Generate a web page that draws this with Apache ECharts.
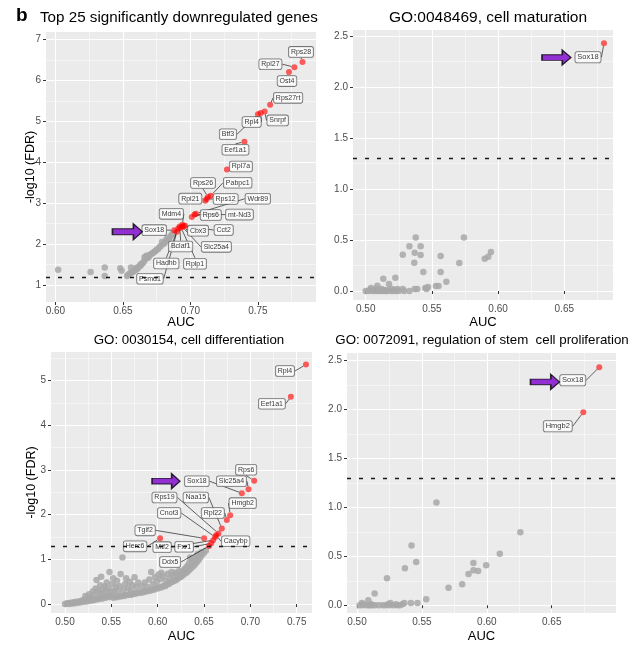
<!DOCTYPE html>
<html><head><meta charset="utf-8">
<script src="https://cdn.jsdelivr.net/npm/echarts@6/dist/echarts.min.js"></script>
<style>html,body{margin:0;padding:0;background:#fff}#c{width:638px;height:645px}</style>
</head><body><div id="c"></div>
<script>
const FONT = '"Liberation Sans", Arial, Helvetica, sans-serif';

// ---------- Panel A: Top 25 significantly downregulated genes ----------
const genesA = ['Rps28','Rpl27','Ost4','Rps27rt','Snrpf','Rpl4','Btf3','Eef1a1','Rpl7a','Rps26','Pabpc1','Rpl21','Rps12','Wdr89','mt-Nd3','Rps6','Mdm4','Cbx3','Cct2','Slc25a4','Bclaf1','Rplp1','Hadhb','Psmd1','Sox18'];
const redA = [[0.783,6.45],[0.777,6.32],[0.773,6.20],[0.759,5.40],[0.755,5.24],[0.752,5.20],[0.750,5.17],[0.740,4.50],[0.727,3.82],[0.713,3.15],[0.715,3.18],[0.711,3.06],[0.712,3.10],[0.704,2.74],[0.703,2.72],[0.701,2.66],[0.694,2.47],[0.696,2.45],[0.695,2.44],[0.694,2.42],[0.692,2.43],[0.693,2.40],[0.691,2.38],[0.690,2.30],[0.688,2.34]];
const greyA = [[0.602,1.37],[0.626,1.32],[0.6365,1.43],[0.6365,1.22],[0.648,1.41],[0.649,1.35],[0.653,1.22],[0.656,1.43],[0.654,1.25],[0.655,1.28],[0.656,1.30],[0.657,1.31],[0.658,1.34],[0.659,1.36],[0.660,1.38],[0.660,1.42],[0.661,1.41],[0.662,1.45],[0.663,1.47],[0.663,1.50],[0.664,1.52],[0.665,1.55],[0.666,1.60],[0.666,1.68],[0.667,1.70],[0.668,1.66],[0.668,1.72],[0.669,1.68],[0.670,1.73],[0.671,1.76],[0.672,1.78],[0.673,1.80],[0.674,1.83],[0.675,1.86],[0.676,1.88],[0.677,1.92],[0.678,1.95],[0.679,2.05],[0.680,2.00],[0.681,2.03],[0.682,2.10],[0.683,2.14],[0.684,2.12],[0.685,2.18],[0.686,2.22],[0.687,2.26]];
const arrowA = [[0.6533,2.30]];
const thresholdA = 1.2;
const xTicksA = [0.60,0.65,0.70,0.75];
const yTicksA = [1,2,3,4,5,6,7];

// ---------- Panel B: GO:0048469, cell maturation ----------
const genesB = ['Sox18'];
const redB = [[0.680,2.43]];
const greyB = [[0.500,0.00],[0.502,0.00],[0.503,0.01],[0.504,0.03],[0.505,0.00],[0.506,0.01],[0.507,0.00],[0.508,0.02],[0.509,0.00],[0.510,0.01],[0.511,0.00],[0.512,0.02],[0.513,0.00],[0.514,0.01],[0.515,0.00],[0.516,0.00],[0.517,0.01],[0.519,0.00],[0.520,0.02],[0.521,0.00],[0.522,0.01],[0.523,0.00],[0.524,0.02],[0.525,0.00],[0.528,0.02],[0.529,0.00],[0.533,0.00],[0.537,0.02],[0.539,0.02],[0.545,0.03],[0.546,0.02],[0.547,0.04],[0.553,0.05],[0.555,0.05],[0.5088,0.052],[0.5133,0.121],[0.5176,0.069],[0.5224,0.130],[0.5609,0.091],[0.5435,0.186],[0.5566,0.186],[0.5367,0.278],[0.5707,0.275],[0.5899,0.317],[0.5926,0.336],[0.5946,0.382],[0.528,0.356],[0.537,0.375],[0.5415,0.353],[0.5566,0.343],[0.533,0.438],[0.5415,0.438],[0.5378,0.526],[0.5742,0.526]];
const arrowB = [[0.6441,2.29]];
const thresholdB = 1.3;
const xTicksB = [0.50,0.55,0.60,0.65];
const yTicksB = [0,0.5,1,1.5,2,2.5];

// ---------- Panel C: GO: 0030154, cell differentiation ----------
const genesC = ['Rpl4','Eef1a1','Rps6','Slc25a4','Sox18','Hmgb2','Rpl22','Naa15','Rps19','Cacybp','Cnot3','Mtf2','Fxr1','Ddx5','Tgif2','Herc6'];
const redC = [[0.760,5.36],[0.7437,4.64],[0.7041,2.76],[0.698,2.57],[0.6908,2.48],[0.6782,1.99],[0.6746,1.88],[0.6692,1.69],[0.6656,1.58],[0.6631,1.54],[0.662,1.50],[0.6598,1.43],[0.6577,1.36],[0.6555,1.30],[0.6501,1.47],[0.6026,1.47]];
const greyC = [[0.500,0.00],[0.502,0.01],[0.503,0.02],[0.505,0.00],[0.506,0.03],[0.508,0.01],[0.509,0.04],[0.511,0.02],[0.512,0.05],[0.514,0.03],[0.515,0.06],[0.517,0.04],[0.518,0.08],[0.520,0.05],[0.521,0.10],[0.523,0.06],[0.524,0.12],[0.526,0.07],[0.527,0.15],[0.529,0.08],
[0.522,0.18],[0.526,0.22],[0.530,0.28],[0.533,0.35],[0.534,0.54],[0.536,0.30],[0.538,0.42],[0.539,0.61],[0.531,0.20],[0.528,0.12],
[0.530,0.10],[0.532,0.09],[0.534,0.12],[0.536,0.11],[0.538,0.14],[0.540,0.12],[0.542,0.16],[0.544,0.14],[0.546,0.18],[0.548,0.16],[0.550,0.20],
[0.537,0.22],[0.540,0.25],[0.541,0.33],[0.543,0.40],[0.544,0.27],[0.545,0.48],[0.547,0.35],[0.548,0.72],[0.549,0.28],[0.551,0.45],[0.552,0.58],[0.553,0.30],[0.555,0.38],[0.556,0.52],
[0.552,0.14],[0.554,0.16],[0.556,0.15],[0.558,0.18],[0.560,0.17],[0.562,0.19],[0.564,0.18],[0.566,0.21],[0.568,0.20],[0.570,0.22],[0.572,0.21],[0.574,0.24],[0.576,0.23],[0.578,0.26],[0.580,0.25],
[0.557,0.28],[0.559,0.40],[0.560,0.67],[0.562,1.04],[0.563,0.32],[0.565,0.45],[0.566,0.58],[0.568,0.36],[0.570,0.50],[0.571,0.30],[0.573,0.42],[0.575,0.60],[0.577,0.38],[0.579,0.48],
[0.582,0.27],[0.584,0.26],[0.586,0.29],[0.588,0.28],[0.590,0.31],[0.592,0.30],[0.594,0.33],[0.596,0.32],[0.598,0.36],[0.600,0.35],[0.602,0.38],[0.604,0.37],[0.606,0.41],[0.608,0.40],[0.610,0.44],
[0.612,0.45],[0.614,0.48],[0.616,0.50],[0.618,0.52],[0.620,0.54],[0.622,0.57],[0.624,0.60],[0.626,0.62],[0.628,0.66],[0.630,0.69],[0.632,0.72],[0.634,0.76],[0.636,0.80],[0.638,0.84],[0.640,0.88],[0.642,0.93],[0.644,0.98],[0.646,1.04],[0.648,1.10],[0.650,1.15],[0.652,1.20],
[0.583,0.40],[0.586,0.48],[0.589,0.38],[0.591,0.55],[0.593,0.72],[0.595,0.45],[0.597,0.60],[0.599,0.50],[0.601,0.66],[0.603,0.56],[0.604,0.70],[0.606,0.62],[0.609,0.52],[0.611,0.68],[0.613,0.58],[0.615,0.72],[0.617,0.64],[0.619,0.70],[0.621,0.66],[0.623,0.74],[0.626,0.72],[0.628,0.76],[0.630,0.80],[0.632,0.85],[0.634,0.92],[0.635,1.04],[0.637,0.96],[0.639,1.00],[0.641,1.06],[0.643,1.12],[0.645,1.10],[0.647,1.16]];
const arrowC = [[0.609,2.75]];
const thresholdC = 1.3;
const xTicksC = [0.50,0.55,0.60,0.65,0.70,0.75];
const yTicksC = [0,1,2,3,4,5];

// ---------- Panel D: GO: 0072091, regulation of stem cell proliferation ----------
const genesD = ['Sox18','Hmgb2'];
const redD = [[0.6866,2.43],[0.6743,1.97]];
const greyD = [[0.502,0.00],[0.5038,0.023],[0.504,0.00],[0.505,0.01],[0.507,0.00],[0.509,0.00],[0.5087,0.051],[0.510,0.00],[0.511,0.01],[0.512,0.00],[0.5136,0.119],[0.514,0.00],[0.517,0.00],[0.520,0.00],[0.522,0.00],[0.524,0.01],[0.5256,0.023],[0.525,0.00],[0.528,0.00],[0.530,0.01],[0.531,0.00],[0.533,0.00],[0.535,0.01],[0.5365,0.023],[0.5415,0.023],[0.5466,0.023],[0.5533,0.061],[0.5231,0.276],[0.5369,0.378],[0.5420,0.609],[0.5456,0.442],[0.5612,1.05],[0.5705,0.18],[0.581,0.214],[0.5859,0.32],[0.5897,0.357],[0.5933,0.35],[0.5897,0.432],[0.5995,0.408],[0.6100,0.527],[0.6258,0.745]];
const arrowD = [[0.6448,2.28]];
const thresholdD = 1.3;
const xTicksD = [0.50,0.55,0.60,0.65];
const yTicksD = [0,0.5,1,1.5,2,2.5];

// ---------- label placement (pixel offsets of label boxes from their points) ----------
const labelOffsetsA = [[-1.5,-10],[-24,-3],[-2,9],[18,-7],[13,9],[-9,9],[-30,20],[-9,8],[14,-3],[-5,-14],[27,-13],[-15,-2],[19,0],[62,-15],[45,0],[19,-2],[-11,-11],[13,5],[40,4],[34,20],[1,20],[14,36],[-12,35],[-27,47],[-20,0]];
const labelOffsetsB = [[-16,14]];
const labelOffsetsC = [[-21,6.5],[-19,7],[-8,-11],[-17,-8],[-45,-12],[12.5,-12],[-14,-7],[-26,-31],[-54,-36],[19.5,6],[-46,-24],[-51,7],[-27,3.5],[-39,16],[-59,-8],[-25,8]];
const labelOffsetsD = [[-26.5,13],[-25.5,14]];

const grids = [
  {left:46, top:32, width:270, height:270},
  {left:353, top:30, width:260, height:270},
  {left:51, top:352, width:261, height:261},
  {left:347, top:353, width:269, height:260}
].map(g => Object.assign({show:true, backgroundColor:'#EBEBEB', borderWidth:0, containLabel:false, outerBoundsMode:'none'}, g));

function axis(gi, min, max, split, ticks, dec, name, nameGap, isY) {
  const a = {
    type:'value', gridIndex:gi, min:min, max:max, splitNumber:split, scale:true,
    axisLine:{show:false},
    axisTick:{show:true, length:3, customValues:ticks, lineStyle:{color:'#333', width:1}},
    axisLabel:{customValues:ticks, formatter:v => Number(v).toFixed(dec), color:'#4D4D4D', fontSize:10, fontFamily:FONT, margin: isY ? 5 : 4},
    splitLine:{show:true, lineStyle:{color:'#fff', width:1}},
    minorTick:{show:false, splitNumber:2},
    minorSplitLine:{show:true, lineStyle:{color:'#fff', width:0.5}},
    name:name, nameLocation:'middle', nameGap:nameGap, nameMoveOverlap:false,
    nameTextStyle:{fontSize: isY ? 12.5 : 13, color:'#000', fontFamily:FONT}
  };
  if (isY) a.nameRotate = 90;
  return a;
}

const xAxes = [
  axis(0, 0.593, 0.793, 4, xTicksA, 2, 'AUC', 14, false),
  axis(1, 0.4904, 0.6868, 4, xTicksB, 2, 'AUC', 16, false),
  axis(2, 0.4849, 0.7665, 5, xTicksC, 2, 'AUC', 17, false),
  axis(3, 0.4923, 0.6995, 4, xTicksD, 2, 'AUC', 17, false)
];
const yAxes = [
  axis(0, 0.585, 7.18, 6, yTicksA, 0, '-log10 (FDR)', 9, true),
  axis(1, -0.088, 2.56, 5, yTicksB, 1, '', 10, true),
  axis(2, -0.2, 5.64, 6, yTicksC, 0, '-log10 (FDR)', 13, true),
  axis(3, -0.079, 2.575, 5, yTicksD, 1, '', 10, true)
];

const ARROW = 'path://M0,5 L21,5 L21,0 L30,8 L21,16 L21,11 L0,11 Z';

function panel(gi, grey, red, genes, offsets, arrow, threshold, lblSize, arrowSize) {
  return [
    {
      type:'scatter', xAxisIndex:gi, yAxisIndex:gi, data:grey, symbolSize:6.5, z:2,
      itemStyle:{color:'#A8A8A8', opacity:0.85}, silent:true,
      markLine:{silent:true, symbol:'none', label:{show:false},
        lineStyle:{type:[4,8], color:'#1a1a1a', width:1.3}, data:[{yAxis:threshold}]}
    },
    {
      type:'scatter', xAxisIndex:gi, yAxisIndex:gi, z:4,
      data:genes.map((g,i) => ({name:g, value:red[i]})),
      symbolSize:6, itemStyle:{color:'rgba(255,0,0,0.78)'},
      label:{show:true, position:'inside', formatter:'{b}', fontSize:lblSize, fontFamily:FONT, color:'#000',
        backgroundColor:'#fff', borderColor:'#555', borderWidth:0.8, borderRadius:2, padding:[1,2,1,2], lineHeight:lblSize+1},
      labelLine:{show:true, lineStyle:{color:'#000', width:0.6}},
      labelLayout: p => ({dx: offsets[p.dataIndex][0], dy: offsets[p.dataIndex][1]})
    },
    {
      type:'scatter', xAxisIndex:gi, yAxisIndex:gi, z:5, data:arrow, symbol:ARROW, symbolSize:arrowSize,
      itemStyle:{color:'#7A00CC', borderColor:'#000', borderWidth:1.2}, silent:true
    }
  ];
}

const series = [].concat(
  panel(0, greyA, redA, genesA, labelOffsetsA, arrowA, thresholdA, 7, [30,16]),
  panel(1, greyB, redB, genesB, labelOffsetsB, arrowB, thresholdB, 7.5, [29,15]),
  panel(2, greyC, redC, genesC, labelOffsetsC, arrowC, thresholdC, 7, [28,15]),
  panel(3, greyD, redD, genesD, labelOffsetsD, arrowD, thresholdD, 7.5, [29,15])
);

const titleStyle = {fontSize:15, fontWeight:'normal', color:'#000', fontFamily:FONT};
const chart = echarts.init(document.getElementById('c'), null, {renderer:'canvas'});
chart.setOption({
  animation:false,
  backgroundColor:'#fff',
  title:[
    {text:'b', left:16, top:6, padding:0, textStyle:{fontSize:19, fontWeight:'bold', color:'#000', fontFamily:FONT}},
    {text:'Top 25 significantly downregulated genes', left:40, top:10, padding:0, textStyle:Object.assign({}, titleStyle, {fontSize:15.2})},
    {text:'GO:0048469, cell maturation', left:488, top:10, padding:0, textAlign:'center', textStyle:Object.assign({}, titleStyle, {fontSize:15.5})},
    {text:'GO: 0030154, cell differentiation', left:189, top:334, padding:0, textAlign:'center', textStyle:Object.assign({}, titleStyle, {fontSize:13.3})},
    {text:'GO: 0072091, regulation of stem  cell proliferation', left:482, top:334, padding:0, textAlign:'center', textStyle:Object.assign({}, titleStyle, {fontSize:13.3})}
  ],
  grid:grids,
  xAxis:xAxes,
  yAxis:yAxes,
  series:series
});
</script>
</body></html>
